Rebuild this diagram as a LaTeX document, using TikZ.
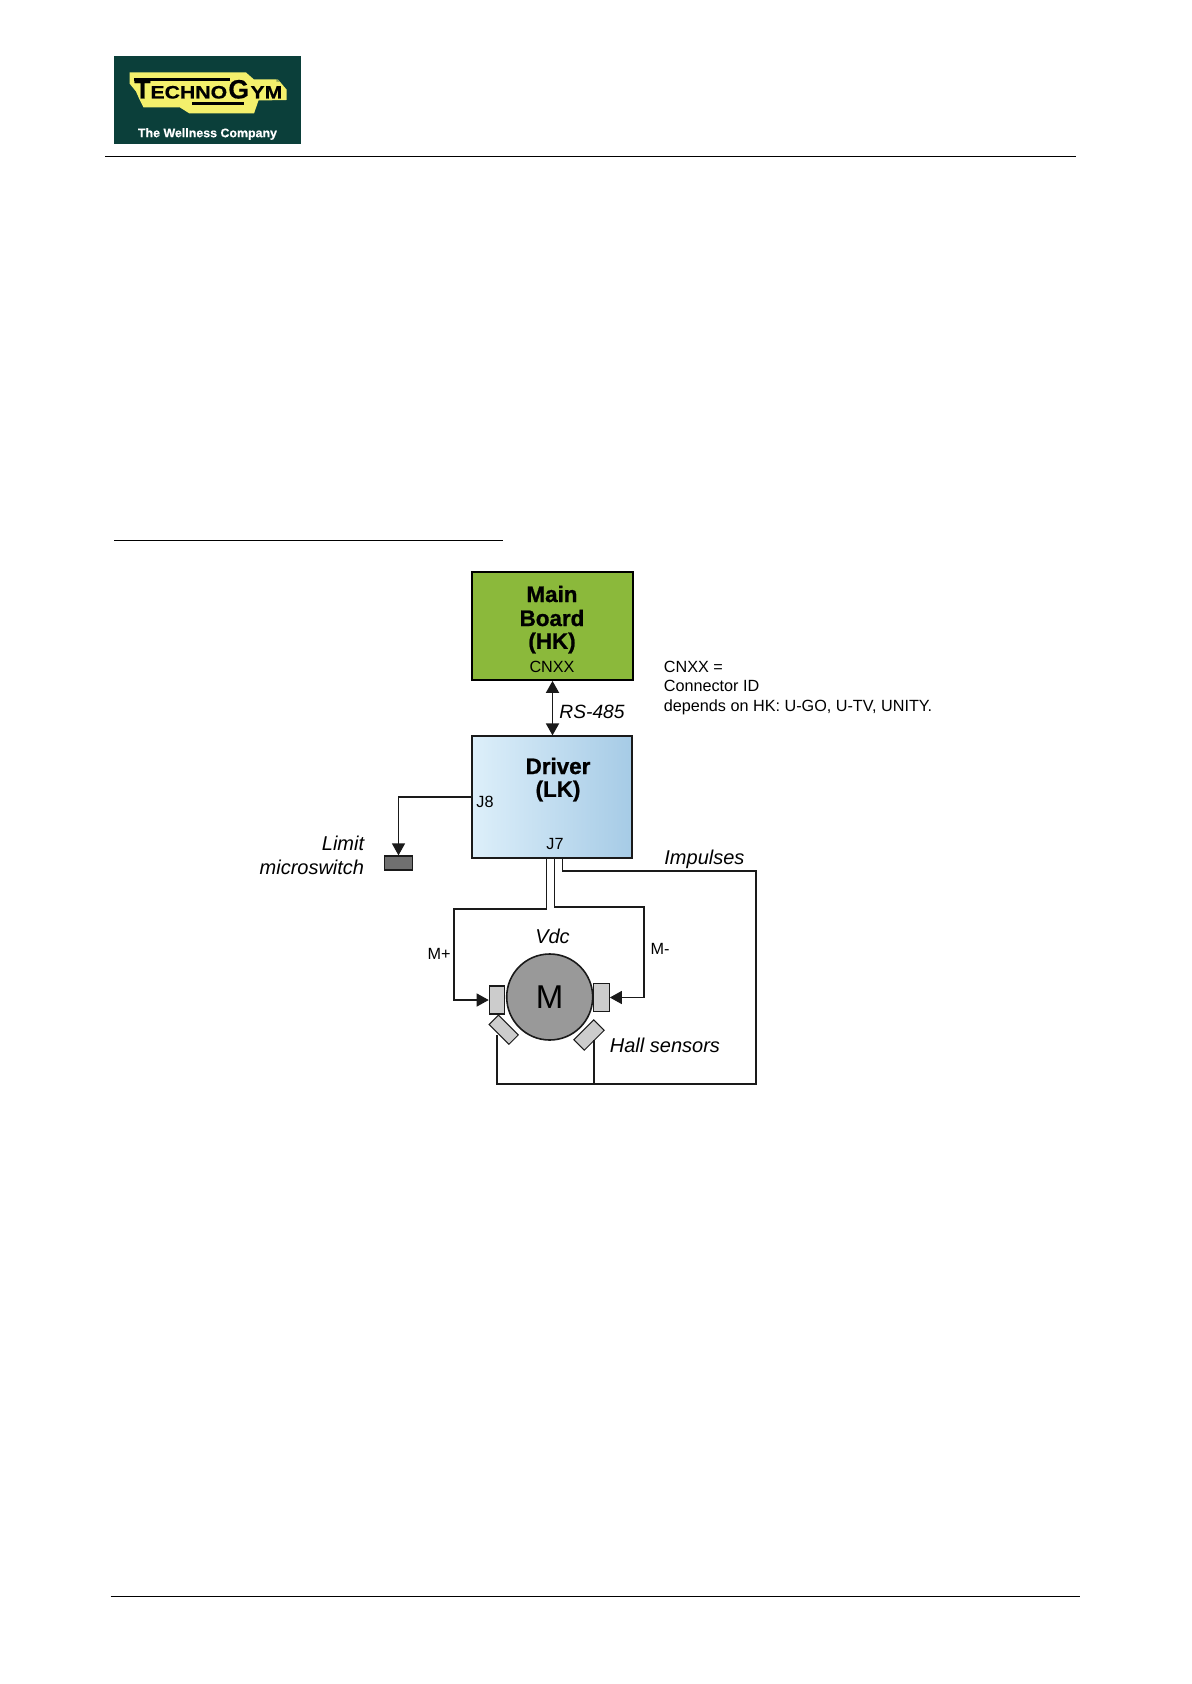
\documentclass[tikz,border=0pt]{standalone}
\usepackage{fontspec}
\setmainfont{Liberation Sans}[BoldFeatures={FakeBold=1}]
\newfontfamily\plainbold{Liberation Sans}[BoldFeatures={FakeBold=0.5}]
\definecolor{logogreen}{HTML}{0B3F3A}
\definecolor{logoyellow}{HTML}{F4F06C}
\definecolor{boardgreen}{HTML}{8BB93B}
\definecolor{driverleft}{HTML}{DDEFFA}
\definecolor{driverright}{HTML}{A6CBE6}
\definecolor{motorgray}{HTML}{999999}
\definecolor{partgray}{HTML}{CCCCCC}
\definecolor{switchgray}{HTML}{707070}
\definecolor{linkgray}{HTML}{1A1A1A}
\usetikzlibrary{arrows.meta}
\tikzset{
  x=0.5pt,y=-0.5pt,
  wire/.style={draw=linkgray,line width=0.6pt},
  tip/.style={-{Triangle[length=6pt,width=6.5pt]}},
  rulelne/.style={draw=black,line width=0.5pt},
  lbl/.style={inner sep=0pt,font=\fontsize{8.1}{9.6}\selectfont},
  ital/.style={inner sep=0pt,font=\fontsize{10}{12}\selectfont\itshape},
  head/.style={inner sep=0pt,font=\fontsize{11.2}{12}\selectfont\bfseries},
  logotext/.style={inner sep=0pt,anchor=base west,xscale=1.18,font=\fontsize{9}{9}\selectfont\plainbold\bfseries},
  logobig/.style={inner sep=0pt,anchor=base west,font=\fontsize{13.3}{13.3}\selectfont\plainbold\bfseries},
  part/.style={draw=linkgray,fill=partgray,line width=0.6pt,inner sep=0pt,minimum width=7.7pt,minimum height=14pt},
  hall/.style={draw=linkgray,fill=partgray,line width=0.5pt,inner sep=0pt,minimum width=14pt,minimum height=6.6pt},
}
\begin{document}
\begin{tikzpicture}
\useasboundingbox (0,0) rectangle (1191,1684);
\fill[white] (0,0) rectangle (1191,1684);
% logo
\fill[logogreen] (113.5,56) rectangle (301,144);
\fill[logoyellow] (129.5,72.5) -- (246,72.5) -- (254,79.5) -- (278,79.5) -- (286.5,89.5) -- (286.5,100) -- (258.5,100.5) -- (254,113.5) -- (189.5,113.5) -- (180,107.5) -- (143.5,107.5) -- (139.5,99.5) -- (136,91.5) -- (129.5,83.5) -- cycle;
\fill[black] (133.5,78.5) rectangle (229.5,81);
\fill[black] (192,102.5) rectangle (243.5,105);
\node[logobig] (logoT) at (134,98.5) {T};
\node[logotext] (logoA) at (150,98.5) {ECHNO};
\node[logobig] (logoG) at (228,98.5) {G};
\node[logotext] (logoB) at (250,98.5) {YM};
\node[inner sep=0pt,text=logogreen,font=\fontsize{2.5}{3}\selectfont] (logoR) at (278,80.5) {®};
\node[inner sep=0pt,text=white,font=\fontsize{6.2}{8}\selectfont\plainbold\bfseries] (logoC) at (207.5,134) {The Wellness Company};
% rules
\draw[rulelne] (105,156.5) -- (1076,156.5);
\draw[rulelne] (114,540) -- (503,540);
\draw[rulelne] (110.5,1596) -- (1080,1596);
% boxes
\node[draw=black,fill=boardgreen,line width=0.9pt,minimum width=80.5pt,minimum height=54pt,inner sep=0pt] (main) at (552.5,626) {};
\node[draw=linkgray,left color=driverleft,right color=driverright,line width=0.6pt,minimum width=80pt,minimum height=61pt,inner sep=0pt] (driver) at (552,797) {};
\node[head] (t1) at (552,594) {Main};
\node[head] (t2) at (552,618) {Board};
\node[head] (t3) at (552,643) {(HK)};
\node[lbl] (cn) at (552,667) {CNXX};
\node[head] (t4) at (558,766) {Driver};
\node[head] (t5) at (558,791) {(LK)};
\node[lbl] (j8) at (485,802) {J8};
\node[lbl] (j7) at (555,844) {J7};
% notes
\node[lbl,anchor=base west] (n1) at (663.5,672) {CNXX =};
\node[lbl,anchor=base west] (n2) at (663.5,691.5) {Connector ID};
\node[lbl,anchor=base west] (n3) at (663.5,711) {depends on HK: U-GO, U-TV, UNITY.};
\node[ital,font=\fontsize{9.6}{12}\selectfont\itshape] (rs) at (592,712) {RS-485};
\node[ital,anchor=east] (lim1) at (364.5,843) {Limit};
\node[ital,anchor=east] (lim2) at (364.5,867) {microswitch};
\node[ital,anchor=base west] (imp) at (664,864) {Impulses};
\node[ital] (vdc) at (552.5,936) {Vdc};
\node[lbl] (mp) at (439,954) {M+};
\node[lbl] (mm) at (660,949) {M-};
\node[ital,anchor=west] (hs) at (609.5,1045) {Hall sensors};
% switch
\node[draw=linkgray,fill=switchgray,line width=0.6pt,minimum width=14pt,minimum height=7pt,inner sep=0pt] (sw) at (398.5,863) {};
% motor
\node[circle,draw=linkgray,fill=motorgray,line width=0.8pt,minimum size=43pt,inner sep=0pt] (motor) at (549.7,997) {};
\node[inner sep=0pt,font=\fontsize{16.5}{16.5}\selectfont] (mlabel) at (549.7,997) {M};
\node[part] (bl) at (497,1000) {};
\node[part] (br) at (601.5,997.5) {};
\node[hall,rotate=-45] (hl) at (503.7,1029.7) {};
\node[hall,rotate=45,minimum height=7.4pt] (hr) at (589,1035) {};
% coordinates for connectors
\coordinate (dj8) at (driver.west |- 0,797);
\coordinate (j8c) at (398.5,797);
\coordinate (a1) at (546.7,858);
\coordinate (a2) at (546.7,909);
\coordinate (a3) at (454,909);
\coordinate (a4) at (454,1000);
\coordinate (b1) at (554.5,858);
\coordinate (b2) at (554.5,907);
\coordinate (b3) at (644,907);
\coordinate (b4) at (644,997.5);
\coordinate (c1) at (562.7,858);
\coordinate (c2) at (562.7,871);
\coordinate (c3) at (756,871);
\coordinate (c4) at (756,1084);
\coordinate (c5) at (497,1084);
\coordinate (c6) at (497,1035);
\coordinate (c7) at (594,1084);
\coordinate (c8) at (594,1040);
% connectors
\draw[wire,line width=0.9pt,{Triangle[length=6pt,width=6.5pt]}-{Triangle[length=6pt,width=6.5pt]}] (main.south) -- (main.south |- driver.north);
\draw[wire,tip] (dj8) -- (j8c) -- (sw.north);
\draw[wire,tip] (a1) -- (a2) -- (a3) -- (a4) -- (bl.west);
\draw[wire,tip] (b1) -- (b2) -- (b3) -- (b4) -- (br.east);
\draw[wire] (c1) -- (c2) -- (c3) -- (c4) -- (c5) -- (c6);
\draw[wire] (c7) -- (c8);
\end{tikzpicture}
\end{document}
